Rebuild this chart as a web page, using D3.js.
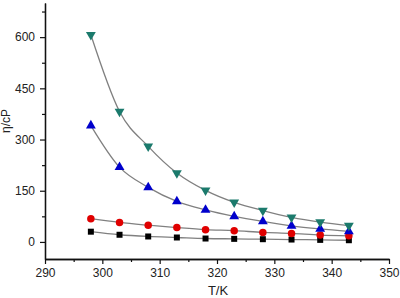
<!DOCTYPE html>
<html>
<head>
<meta charset="utf-8">
<script src="https://cdn.jsdelivr.net/npm/d3@7"></script>
<style>
body { margin: 0; background: #fff; }
text { font-family: "Liberation Sans", Arial, sans-serif; }
</style>
</head>
<body>
<script>
// temperatures (K)
var temps = [298, 303, 308, 313, 318, 323, 328, 333, 338, 343]
// viscosity series (cP)
var visc_green = [607, 382, 280, 202, 151, 116, 92, 72, 58, 48]
var visc_blue = [341, 219, 160, 119, 94, 75, 60, 47, 38, 31]
var visc_red = [68, 57, 49, 42, 36, 33, 28, 25, 20, 18]
var visc_black = [30, 21, 16, 13, 10, 9, 8, 7, 6, 5]

var x_ticks = [290, 300, 310, 320, 330, 340, 350]
var y_ticks = [0, 150, 300, 450, 600]

var width = 400, height = 298
var margin = {top: 3, right: 11, bottom: 39, left: 45}

var svg = d3.select('body').append('svg')
		.attr('width', width).attr('height', height)

var plot_w = width - margin.left - margin.right
var plot_h = height - margin.top - margin.bottom

var scale_x = d3.scaleLinear().domain([290, 350]).range([0, plot_w])
var scale_y = d3.scaleLinear().domain([-50, 700]).range([plot_h, 0])

var g = svg.append('g').attr('transform', `translate(${margin.left},${margin.top})`)

// axes
var axis_x = g.append('g').attr('transform', `translate(0,${plot_h})`)
		.call(d3.axisBottom(scale_x).tickValues(x_ticks).tickSize(5).tickPadding(4).tickSizeOuter(0))
var axis_x_minor = g.append('g').attr('transform', `translate(0,${plot_h})`)
		.call(d3.axisBottom(scale_x).tickValues(x_ticks.slice(0, -1).map(function(d) { return d + 5 }))
			.tickSize(3).tickFormat('').tickSizeOuter(0))
var axis_y = g.append('g')
		.call(d3.axisLeft(scale_y).tickValues(y_ticks).tickSize(5).tickPadding(5).tickSizeOuter(0))
var axis_y_minor = g.append('g')
		.call(d3.axisLeft(scale_y).tickValues([75, 225, 375, 525, 675]).tickSize(3).tickFormat('').tickSizeOuter(0))

;[axis_x, axis_y, axis_x_minor, axis_y_minor].forEach(function(a) {
	a.selectAll('.domain').attr('stroke', '#111').attr('stroke-width', 1.3)
	a.selectAll('line').attr('stroke', '#111').attr('stroke-width', 1.2)
	a.selectAll('text').attr('font-size', 12).attr('fill', '#222')
		.style('font-family', '"Liberation Sans", Arial, sans-serif')
})

// axis titles
svg.append('text').text('T/K')
		.attr('x', 218).attr('y', 295)
		.attr('text-anchor', 'middle').attr('font-size', 13).attr('fill', '#222')
svg.append('text').text('η/cP')
		.attr('transform', 'translate(10,121) rotate(-90)')
		.attr('text-anchor', 'middle').attr('font-size', 12).attr('fill', '#222')

var series = [
	{vals: visc_black, color: '#000000', shape: d3.symbolSquare, size: 36, rot: 0},
	{vals: visc_red, color: '#e00000', shape: d3.symbolCircle, size: 44, rot: 0},
	{vals: visc_blue, color: '#0000cc', shape: d3.symbolTriangle, size: 42, rot: 0},
	{vals: visc_green, color: '#1b7a6c', shape: d3.symbolTriangle, size: 42, rot: 180}
]

var line = d3.line()
		.x(function(d) { return scale_x(d.t) })
		.y(function(d) { return scale_y(d.v) })
		.curve(d3.curveMonotoneX)

series.forEach(function(s) {
	var pts = temps.map(function(t, i) { return {t: t, v: s.vals[i]} })
	g.append('path').datum(pts)
			.attr('d', line)
			.attr('fill', 'none')
			.attr('stroke', '#808080')
			.attr('stroke-width', 1.3)
	g.selectAll(null).data(pts).enter()
			.append('path')
			.attr('d', d3.symbol().type(s.shape).size(s.size))
			.attr('transform', function(d) {
				return `translate(${scale_x(d.t)},${scale_y(d.v)}) rotate(${s.rot})`
			})
			.attr('fill', s.color)
})
</script>
</body>
</html>
